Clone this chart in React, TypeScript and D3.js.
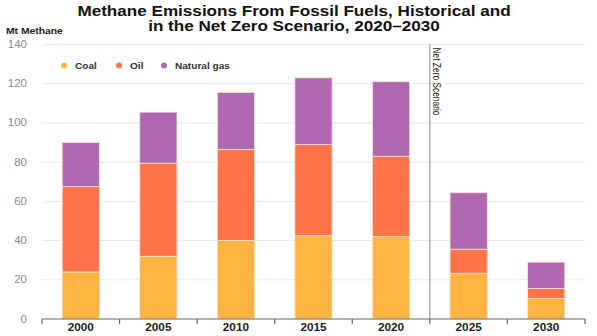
import React from "react";
import * as d3 from "d3";

const years = ["2000", "2005", "2010", "2015", "2020", "2025", "2030"];
const coal = [24, 32, 40, 42.5, 42, 23.3, 10.5];
const oil = [43.5, 47.5, 46.5, 46.5, 41, 12.3, 5];
const gas = [22.5, 26, 29, 34, 38, 28.8, 13.5];
const seriesNames = ["Coal", "Oil", "Natural gas"];
const colors = ["#FDB441", "#FF7349", "#AE68AF"];
const yTicks = [0, 20, 40, 60, 80, 100, 120, 140];
const titleLines = ["Methane Emissions From Fossil Fuels, Historical and", "in the Net Zero Scenario, 2020–2030"];

const W = 597, H = 336;
const left = 42, right = 585, top = 44.5, bottom = 319;
const SX = 1.15;

export default function App() {
  const x = d3.scaleBand().domain(years).range([left, right]).paddingInner(0.52).paddingOuter(0.26);
  const y = d3.scaleLinear().domain([0, 140]).range([bottom, top]);
  const rows = years.map((yr, i) => ({ year: yr, Coal: coal[i], Oil: oil[i], "Natural gas": gas[i] }));
  const stacked = d3.stack<any>().keys(seriesNames)(rows);
  const step = (right - left) / years.length;
  const boundaries = d3.range(years.length + 1).map((i) => left + i * step);
  const divX = left + 5 * step;
  const font = "'Liberation Sans', Arial, sans-serif";
  const legendX = [64, 119, 164];

  return (
    <svg width={W} height={H} style={{ position: "absolute", left: 0, top: 0, background: "#fff" }} fontFamily={font}>
      {titleLines.map((t, i) => (
        <text key={i} transform={`translate(294,${16 + i * 14.5}) scale(1.18,1)`} textAnchor="middle" fontSize={14.5} fontWeight="bold" fill="#111">
          {t}
        </text>
      ))}
      <text transform={`translate(6,34) scale(${SX},1)`} fontSize={9} fontWeight="bold" fill="#222">Mt Methane</text>

      {yTicks.map((t) => (
        <g key={t}>
          {t > 0 && <line x1={left} x2={right} y1={y(t)} y2={y(t)} stroke="#e8e8e8" strokeWidth={1} />}
          <text transform={`translate(27,${y(t) + 3.5}) scale(${SX},1)`} textAnchor="end" fontSize={10} fill="#8a8a8a">{t}</text>
        </g>
      ))}

      {stacked.map((s, si) => (
        <g key={s.key}>
          {s.map((d, i) => (
            <rect key={i} x={x(years[i])} width={x.bandwidth()} y={y(d[1])} height={y(d[0]) - y(d[1])}
              fill={colors[si]} stroke="#fbe3d6" strokeWidth={0.8} />
          ))}
        </g>
      ))}

      <line x1={left} x2={right} y1={bottom} y2={bottom} stroke="#666" strokeWidth={1.2} />
      {boundaries.map((b, i) => (
        <line key={i} x1={b} x2={b} y1={bottom} y2={bottom + 5} stroke="#666" strokeWidth={1.2} />
      ))}
      {years.map((yr) => (
        <text key={yr} transform={`translate(${(x(yr) as number) + x.bandwidth() / 2},331) scale(1.18,1)`} textAnchor="middle" fontSize={10} fontWeight="bold" fill="#222">{yr}</text>
      ))}

      <line x1={divX} x2={divX} y1={top} y2={bottom} stroke="#888" strokeWidth={1} />
      <text transform={`translate(${divX + 3.5},${top + 3}) rotate(90)`} fontSize={11} fill="#222" textLength={68} lengthAdjust="spacingAndGlyphs">Net Zero Scenario</text>

      {seriesNames.map((n, i) => (
        <g key={n}>
          <circle cx={legendX[i]} cy={65.5} r={3} fill={colors[i]} />
          <text transform={`translate(${legendX[i] + 11},68.5) scale(1.12,1)`} fontSize={9} fontWeight="bold" fill="#333">{n}</text>
        </g>
      ))}
    </svg>
  );
}
